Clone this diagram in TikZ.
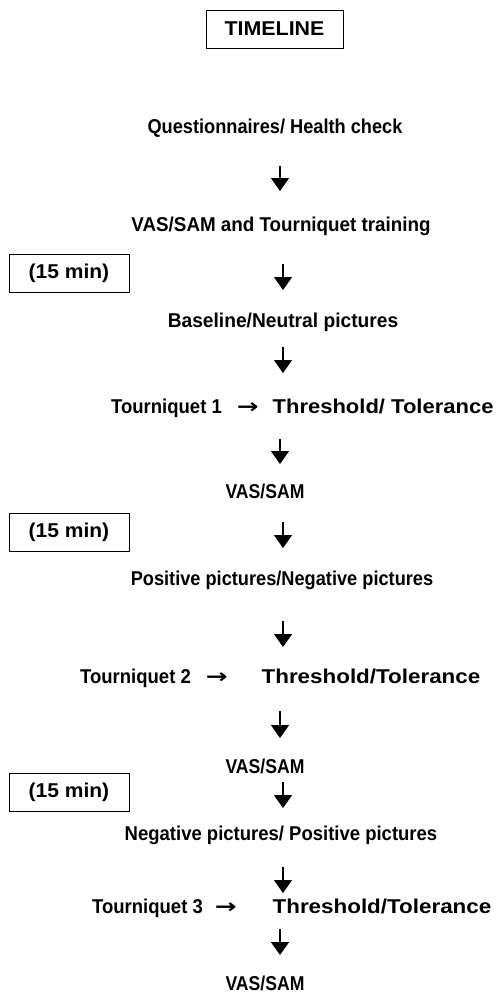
\documentclass[tikz,border=0pt]{standalone}
\usepackage{graphicx}
\usepackage{fontspec}
\setmainfont{Liberation Sans}
\newfontfamily\djv{DejaVu Sans}
\usetikzlibrary{arrows.meta}
\newcommand\sx[2]{\scalebox{#1}[1]{#2}}
\newcommand\rarr{{\djv\sx{1.3}{→}}}
\begin{document}
\begin{tikzpicture}[x=1pt,y=-1pt,
  lbl/.style={font=\bfseries\fontsize{20}{24}\selectfont, inner sep=0pt, anchor=center},
  lw/.style={lbl, anchor=west},
  boxed/.style={draw, line width=1pt, font=\bfseries\fontsize{20}{24}\selectfont, inner sep=0pt, minimum height=38pt},
  arr/.style={line width=1.6pt, -{Triangle[width=18pt,length=13pt]}}]
\useasboundingbox (0,0) rectangle (503,1001);
\node[boxed, minimum width=137pt] (tl) at (274.5,29) {\sx{1.07}{TIMELINE}};
\node[lbl] (q) at (275,128) {\sx{0.91}{Questionnaires/ Health check}};
\node[lbl] (v0) at (281,226) {\sx{0.94}{VAS/SAM and Tourniquet training}};
\node[boxed, minimum width=120pt] (m1) at (69,273) {\sx{1.05}{(15 min)}};
\node[lbl] (b) at (283,322) {\sx{0.96}{Baseline/Neutral pictures}};
\node[lw] (t1) at (111,408) {\sx{0.925}{Tourniquet 1}\hspace{15pt}\rarr\hspace{14pt}\sx{1.1}{Threshold/ Tolerance}};
\node[lbl] (v1) at (265,491) {\sx{0.88}{VAS/SAM}};
\node[boxed, minimum width=120pt] (m2) at (69,532) {\sx{1.05}{(15 min)}};
\node[lbl] (p) at (282,580) {\sx{0.91}{Positive pictures/Negative pictures}};
\node[lw] (t2) at (80,678) {\sx{0.925}{Tourniquet 2}\hspace{15pt}\rarr\hspace{34pt}\sx{1.12}{Threshold/Tolerance}};
\node[lbl] (v2) at (265,766) {\sx{0.88}{VAS/SAM}};
\node[boxed, minimum width=120pt] (m3) at (69,792) {\sx{1.05}{(15 min)}};
\node[lbl] (n) at (281,835) {\sx{0.925}{Negative pictures/ Positive pictures}};
\node[lw] (t3) at (92,908) {\sx{0.925}{Tourniquet 3}\hspace{12pt}\rarr\hspace{36pt}\sx{1.12}{Threshold/Tolerance}};
\node[lbl] (v3) at (265,983) {\sx{0.88}{VAS/SAM}};
\coordinate (a1s) at (280,166); \coordinate (a1e) at (280,191);
\coordinate (a2s) at (283,264); \coordinate (a2e) at (283,290);
\coordinate (a3s) at (283,347); \coordinate (a3e) at (283,373);
\coordinate (a4s) at (280,439); \coordinate (a4e) at (280,464);
\coordinate (a5s) at (283,522); \coordinate (a5e) at (283,548);
\coordinate (a6s) at (283,621); \coordinate (a6e) at (283,647);
\coordinate (a7s) at (280,711); \coordinate (a7e) at (280,738);
\coordinate (a8s) at (283,782); \coordinate (a8e) at (283,808);
\coordinate (a9s) at (283,867); \coordinate (a9e) at (283,893);
\coordinate (a10s) at (280,929); \coordinate (a10e) at (280,955);
\foreach \i in {1,...,10} {\draw[arr] (a\i s) -- (a\i e);}
\end{tikzpicture}
\end{document}
